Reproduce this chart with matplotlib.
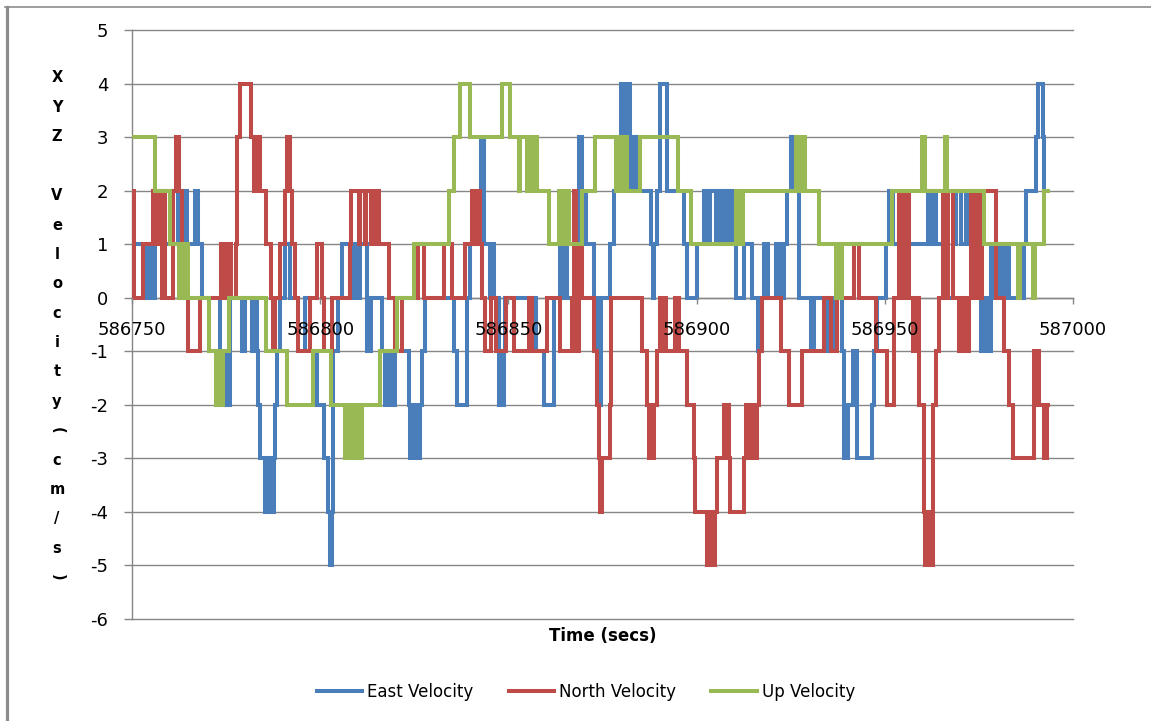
import matplotlib
matplotlib.use("Agg")
import matplotlib.pyplot as plt
from matplotlib.lines import Line2D

# ---------------- data ----------------
T0 = 586750  # time origin (secs)

# change points: time offset from T0 (secs) and the value held from that time
east_t = [0.0, 3.9, 4.6, 5.1, 6.1, 12.3, 12.8, 13.3, 13.8, 14.2, 14.5, 16.8, 17.6, 18.5,
          23.4, 23.9, 24.4, 24.9, 25.4, 25.8, 26.1, 29.2, 30.0, 31.8, 32.7, 33.2, 33.6, 34.0,
          35.4, 35.9, 36.3, 36.8, 37.2, 37.6, 38.0, 38.6, 39.4, 40.7, 42.0, 44.2, 46.0, 47.3,
          49.1, 50.9, 52.2, 52.6, 53.2, 53.5, 54.7, 55.8, 58.0, 58.5, 59.0, 59.5, 60.0, 60.6,
          62.4, 62.8, 63.3, 63.6, 66.4, 67.3, 67.8, 68.3, 68.8, 69.3, 69.8, 70.4, 73.5, 73.9,
          74.4, 74.9, 75.4, 75.9, 76.4, 77.0, 77.9, 85.5, 86.4, 89.0, 89.9, 92.6, 93.4, 95.0,
          95.6, 96.3, 97.4, 97.8, 98.2, 98.7, 99.2, 107.2, 109.4, 112.0, 113.8, 114.3, 114.8,
          115.6, 118.7, 119.6, 120.5, 122.7, 123.5, 124.5, 127.1, 128.0, 128.8, 129.8, 130.3,
          130.8, 131.3, 131.8, 132.2, 132.6, 133.1, 133.6, 134.0, 134.7, 137.8, 138.4, 138.8,
          139.5, 140.4, 142.2, 146.6, 147.5, 150.2, 151.9, 153.0, 153.5, 155.1, 155.5, 155.9,
          156.4, 157.0, 157.5, 158.5, 159.0, 160.0, 160.4, 162.6, 164.8, 166.2, 167.5, 167.9,
          168.3, 168.7, 169.1, 171.0, 171.5, 172.0, 172.6, 173.1, 174.1, 175.0, 175.9, 177.2,
          180.3, 181.2, 184.8, 186.5, 188.5, 189.2, 190.1, 191.5, 192.7, 196.7, 197.2, 198.0,
          200.3, 201.2, 202.1, 204.3, 205.2, 211.4, 211.8, 212.2, 212.7, 213.1, 213.5, 216.7,
          218.1, 218.9, 220.2, 221.6, 222.5, 223.8, 225.6, 226.4, 227.3, 228.2, 228.8, 229.4,
          230.4, 231.0, 231.8, 232.6, 233.1, 237.1, 237.5, 240.2, 240.6, 242.0, 242.4, 243.3]
east_v = [1, 0, 1, 0, 1, 2, 1, 2, 1, 2, 1, 2, 1, 0,
          -1, -2, -1, -2, -1, -2, 0, -1, 0, -1, 0, -1, -2, -3,
          -4, -3, -4, -3, -4, -3, -2, -1, 0, 1, 0, -1, 0, -1,
          -2, -3, -4, -5, -4, -1, 0, 1, 0, 1, 0, 1, 0, 1,
          -1, 0, -1, 0, -1, -2, -1, -2, -1, -2, -1, -1, -2, -3,
          -2, -3, -2, -3, -2, -1, 0, -1, -2, 0, 1, 3, 1, 0,
          1, 0, -2, -1, -2, -1, 0, -1, -2, 0, 1, 0, 1,
          0, 3, 2, 1, 0, -2, 0, 1, 2, 3, 4, 3,
          4, 3, 4, 3, 2, 3, 2, 3, 2, 1, 0, 1,
          2, 4, 2, 1, 0, 1, 2, 1, 2, 1, 2, 1,
          2, 1, 2, 1, 2, 1, 0, 1, 0, -1, 0, 1,
          0, 1, 0, 1, 0, 1, 0, 1, 2, 3, 2, 0,
          -1, 0, -1, 0, -1, -3, -2, -1, -3, -2, -1, 0,
          1, 2, 1, 0, 1, 2, 1, 2, 1, 2, 1, 0,
          1, 2, 1, 2, 1, 0, -1, 0, -1, 1, 0, 1,
          0, 1, 0, 1, 0, 1, 2, 3, 4, 3, 2, 2]

north_t = [0.0, 0.4, 3.0, 5.7, 6.1, 6.5, 7.0, 7.4, 8.0, 8.5, 8.8, 10.8, 11.6, 12.6, 13.2,
           15.0, 18.1, 23.7, 24.2, 24.7, 25.2, 25.7, 26.2, 27.5, 28.0, 28.6, 31.5, 32.4, 32.8,
           33.2, 33.6, 34.0, 35.5, 36.8, 37.4, 37.9, 39.4, 40.7, 41.3, 41.9, 42.5, 43.3, 44.2,
           47.3, 49.1, 50.4, 50.9, 53.1, 58.0, 58.3, 60.2, 60.6, 61.8, 62.2, 63.4, 63.8, 64.6,
           65.0, 65.5, 68.2, 70.0, 71.7, 76.1, 77.5, 82.8, 85.0, 88.6, 90.3, 90.8, 91.3, 91.7,
           92.1, 92.4, 92.9, 93.9, 95.5, 96.8, 99.3, 101.5, 105.5, 106.4, 110.3, 113.8, 116.9,
           117.4, 118.0, 118.8, 119.6, 122.7, 123.5, 124.0, 124.4, 124.9, 127.0, 127.3, 135.6,
           136.9, 137.3, 137.8, 138.3, 138.8, 139.5, 140.4, 141.0, 141.5, 142.0, 144.3, 145.3,
           147.5, 149.3, 149.7, 152.8, 153.3, 153.7, 154.2, 154.6, 155.0, 155.5, 157.3, 157.7,
           158.2, 158.6, 159.0, 162.6, 163.0, 163.5, 164.0, 164.5, 165.0, 165.5, 166.0, 166.6,
           167.5, 172.4, 174.6, 178.1, 183.9, 185.7, 187.4, 191.9, 193.2, 197.6, 200.7, 202.5,
           203.8, 204.7, 205.6, 206.5, 207.4, 207.8, 208.2, 208.7, 209.2, 210.5, 210.8, 211.2,
           211.6, 212.0, 212.3, 212.7, 213.6, 214.5, 215.4, 216.2, 216.8, 218.0, 219.8, 220.3,
           220.8, 221.3, 221.8, 222.4, 222.9, 223.8, 224.3, 225.3, 225.8, 229.5, 231.8, 233.1,
           234.0, 239.7, 240.1, 240.5, 240.9, 242.4, 243.0, 243.3]
north_v = [2, 0, 1, 2, 1, 2, 1, 2, 0, 2, 0, 2, 3, 2, 0,
           -1, 0, 1, 0, 1, 0, 1, 0, 1, 3, 4, 3, 2, 3,
           2, 3, 2, 1, 0, -1, 0, 1, 2, 3, 2, 1, 0, -1,
           0, 1, 0, -1, 0, 1, 2, 1, 2, 1, 2, 1, 2, 1,
           2, 1, 0, -1, 0, 1, 0, 1, 0, 1, 2, 1, 2, 1,
           2, 1, 0, -1, 0, -1, 0, -1, 0, -1, 0, -1, 0,
           2, -1, 1, 0, -1, -2, -3, -4, -3, -2, 0, -1,
           -2, -3, -2, -3, -2, -1, 0, -1, 0, -1, 0, -1,
           -2, -3, -4, -5, -4, -5, -4, -5, -4, -3, -2, -3,
           -2, -3, -4, -3, -2, -3, -2, -3, -2, -3, -2, -1,
           0, -1, -2, -1, 0, -1, 0, 1, 0, -1, -2, 0,
           2, 0, 2, 0, -1, 0, -1, 0, -2, -4, -5, -4,
           -5, -4, -5, -2, -1, 0, 2, 0, 2, 0, -1, 0,
           -1, 0, -1, 0, 2, 0, 2, 0, 2, 0, -1, -2,
           -3, -1, -2, -1, -2, -3, -2, -2]

up_t = [0.0, 6.0, 10.2, 12.4, 12.8, 13.2, 13.6, 14.0, 14.4, 14.8, 20.4, 22.2, 22.6, 23.0,
        23.4, 23.8, 24.2, 25.7, 35.5, 41.1, 48.2, 53.0, 56.6, 57.2, 57.8, 58.4, 59.0, 59.6,
        60.2, 61.0, 66.0, 70.4, 74.8, 84.1, 85.5, 87.2, 89.9, 98.3, 100.4, 102.7, 103.2,
        105.0, 105.6, 106.4, 106.9, 107.6, 110.7, 113.4, 113.9, 114.4, 114.9, 115.4, 116.0,
        119.6, 123.1, 128.5, 129.0, 129.5, 130.0, 130.5, 131.0, 131.5, 135.0, 145.0, 148.4,
        160.4, 160.9, 161.4, 161.8, 162.2, 176.3, 176.8, 177.3, 177.8, 178.3, 178.9, 182.5,
        187.0, 187.5, 188.0, 188.7, 202.0, 210.0, 210.6, 216.0, 216.6, 226.4, 235.3, 236.0,
        239.3, 240.0, 242.4, 243.3]
up_v = [3, 2, 1, 0, 1, 0, 1, 0, 1, 0, -1, -2, -1, -2,
        -1, -2, -1, 0, -1, -2, -1, -2, -3, -2, -3, -2, -3, -2,
        -3, -2, -1, 0, 1, 2, 3, 4, 3, 4, 3, 2, 3,
        2, 3, 2, 3, 2, 1, 2, 1, 2, 1, 2, 1,
        2, 3, 2, 3, 2, 3, 2, 3, 2, 3, 2, 1,
        2, 1, 2, 1, 2, 3, 2, 3, 2, 3, 2, 1,
        0, 1, 0, 1, 2, 3, 2, 3, 2, 1, 0, 1,
        0, 1, 2, 2]

series_names = ["East Velocity", "North Velocity", "Up Velocity"]
series_colors = ["#4A7EBB", "#BE4B48", "#98B954"]
x_ticks = [586750, 586800, 586850, 586900, 586950, 587000]
y_ticks = [-6, -5, -4, -3, -2, -1, 0, 1, 2, 3, 4, 5]
x_title = "Time (secs)"
y_title_chars = ["X", "Y", "Z", " ", "V", "e", "l", "o", "c", "i", "t", "y",
                 "(", "c", "m", "/", "s", ")"]

# ---------------- figure ----------------
W, H = 1151, 721
fig = plt.figure(figsize=(W / 100, H / 100), dpi=100)
fig.patch.set_facecolor("white")
L, R, T, B = 132, 1073, 30, 619
ax = fig.add_axes([L / W, 1 - B / H, (R - L) / W, (B - T) / H])

grid_c = "#868686"
for yv in y_ticks:
    ax.axhline(yv, color=grid_c, lw=1.0, zorder=1, clip_on=False)

handles = []
for tt, vv, col, name in zip([east_t, north_t, up_t], [east_v, north_v, up_v],
                             series_colors, series_names):
    ln, = ax.step([T0 + x for x in tt], vv, where="post", color=col, lw=2.9,
                  label=name, zorder=3, solid_joinstyle="miter")
    handles.append(ln)

ax.set_xlim(x_ticks[0], x_ticks[-1])
ax.set_ylim(y_ticks[0], y_ticks[-1])
ax.set_xticks(x_ticks)
ax.set_xticklabels([str(v) for v in x_ticks])
ax.set_yticks(y_ticks)
ax.set_yticklabels([str(v) for v in y_ticks])

for s in ["top", "right"]:
    ax.spines[s].set_visible(False)
ax.spines["left"].set_color(grid_c)
ax.spines["left"].set_linewidth(1.0)
ax.spines["bottom"].set_position(("data", 0))
ax.spines["bottom"].set_color(grid_c)
ax.spines["bottom"].set_linewidth(1.0)

ax.tick_params(axis="x", direction="out", length=4.5, width=1.0, color=grid_c,
               labelsize=13, pad=12, labelcolor="black")
ax.tick_params(axis="y", direction="out", length=6, width=1.0, color=grid_c,
               labelsize=13, pad=11, labelcolor="black")
ax.xaxis.set_zorder(5)
ax.yaxis.set_zorder(5)

ax.set_xlabel(x_title, fontsize=12, fontweight="bold")
ax.xaxis.set_label_coords(0.5, (B - 636) / (B - T))
ax.xaxis.label.set_va("center")

# stacked y-axis title
y0, dy = 78, 29.4
for i, ch in enumerate(y_title_chars):
    rot = -90 if ch in "()" else 0
    fig.text(57 / W, 1 - (y0 + i * dy) / H, ch, ha="center", va="center",
             fontsize=10.5, fontweight="bold", rotation=rot)

fig.legend(handles=handles, labels=series_names, loc="center",
           bbox_to_anchor=(586 / W, 1 - 692 / H), ncol=3, frameon=False,
           fontsize=12, handlelength=2.75, handletextpad=0.3, columnspacing=2.1)

# chart-area border
fig.add_artist(Line2D([6.5 / W, 6.5 / W], [0, 1 - 7 / H], color="#8c8c8c", lw=2.3,
                      transform=fig.transFigure))
fig.add_artist(Line2D([5 / W, 1], [1 - 7 / H, 1 - 7 / H], color="#8c8c8c", lw=1.2,
                      transform=fig.transFigure))

fig.savefig("out.png", dpi=100)
